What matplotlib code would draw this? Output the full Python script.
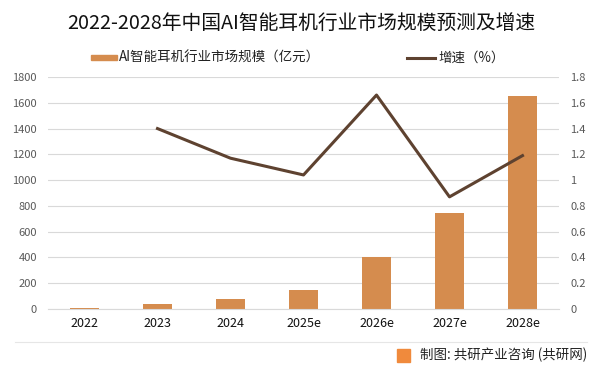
import matplotlib
matplotlib.use("Agg")
import matplotlib.pyplot as plt
from matplotlib.patches import Rectangle
from matplotlib.lines import Line2D

plt.rcParams['font.family'] = ['Noto Sans CJK SC', 'DejaVu Sans']

categories = ["2022", "2023", "2024", "2025e", "2026e", "2027e", "2028e"]
market_size = [10, 35, 75, 150, 400, 745, 1650]
growth = [None, 1.40, 1.17, 1.04, 1.66, 0.87, 1.19]
left_ticks = [0, 200, 400, 600, 800, 1000, 1200, 1400, 1600, 1800]
right_ticks = [0, 0.2, 0.4, 0.6, 0.8, 1.0, 1.2, 1.4, 1.6, 1.8]
right_labels = ["0", "0.2", "0.4", "0.6", "0.8", "1", "1.2", "1.4", "1.6", "1.8"]
bar_label = "AI智能耳机行业市场规模（亿元）"
line_label = "增速（%）"
title = "2022-2028年中国AI智能耳机行业市场规模预测及增速"
source = "制图: 共研产业咨询 (共研网)"

bar_color = "#D58C4E"
line_color = "#5E4230"
grid_color = "#D9D9D9"
tick_color = "#595959"

W, H = 602, 375
fig = plt.figure(figsize=(W / 100, H / 100), dpi=100)
ax = fig.add_axes([48 / W, 1 - 309 / H, (559 - 48) / W, (309 - 77) / H])
ax2 = ax.twinx()

x = list(range(len(categories)))
ax.bar(x, market_size, width=0.41, color=bar_color, zorder=2)
ax.set_xlim(-0.5, len(categories) - 0.5)
ax.set_ylim(0, 1800)
ax.set_yticks(left_ticks)
ax.set_yticklabels([str(t) for t in left_ticks])
ax.grid(axis='y', color=grid_color, linewidth=0.8, zorder=0)
ax.set_axisbelow(True)
ax.set_xticks(x)
ax.set_xticklabels(categories, fontsize=9, color="#111111")
ax.tick_params(axis='x', length=0, pad=6)
ax.tick_params(axis='y', length=0, labelsize=8, labelcolor=tick_color, pad=8)
for s in ["top", "right", "left"]:
    ax.spines[s].set_visible(False)
ax.spines["bottom"].set_color(grid_color)

gx = [i for i, g in zip(x, growth) if g is not None]
gy = [g for g in growth if g is not None]
ax2.plot(gx, gy, color=line_color, linewidth=2.2, zorder=3)
ax2.set_ylim(0, 1.8)
ax2.set_yticks(right_ticks)
ax2.set_yticklabels(right_labels)
ax2.tick_params(axis='y', length=0, labelsize=8, labelcolor=tick_color, pad=8)
for s in ["top", "right", "left", "bottom"]:
    ax2.spines[s].set_visible(False)

fig.text(0.5, 1 - 23 / H, title, ha='center', va='center', fontsize=14.25, color="#111111")

# legend (drawn manually to match the flat patch)
ly = 1 - 57.5 / H
fig.add_artist(Rectangle((91 / W, 1 - 60 / H), 26 / W, 5 / H, color=bar_color))
fig.text(119 / W, ly, bar_label, ha='left', va='center', fontsize=9.7, color="#222222")
fig.add_artist(Line2D([407 / W, 435 / W], [ly, ly], color=line_color, linewidth=2.2))
fig.text(438 / W, ly, line_label, ha='left', va='center', fontsize=9.7, color="#222222")

# footer separator and source
fig.add_artist(Line2D([15 / W, 587 / W], [1 - 342 / H, 1 - 342 / H], color="#E6E6E6", linewidth=0.8))
fig.add_artist(Rectangle((397 / W, 1 - 362 / H), 13 / W, 13 / H, color="#F08A3C"))
fig.text(587 / W, 1 - 355 / H, source, ha='right', va='center', fontsize=9.7, color="#222222")

fig.savefig("out.png", dpi=100)
